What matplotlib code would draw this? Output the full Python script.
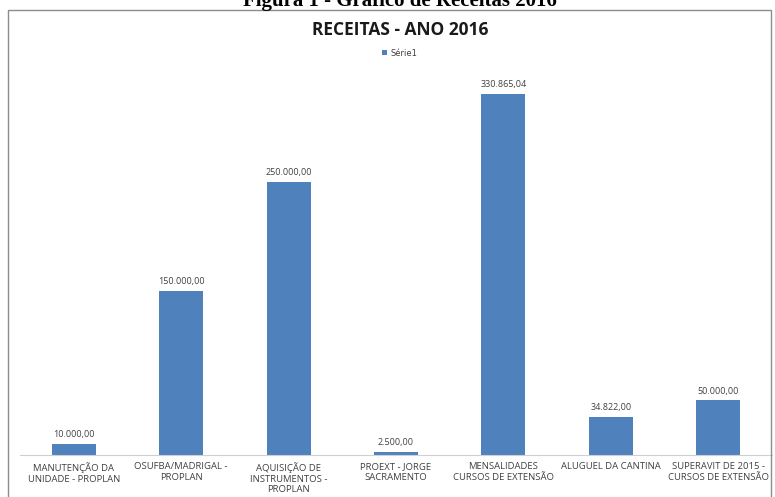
import matplotlib.pyplot as plt
from matplotlib.patches import Rectangle

categorias = ["MANUTENÇÃO DA\nUNIDADE - PROPLAN", "OSUFBA/MADRIGAL -\nPROPLAN",
              "AQUISIÇÃO DE\nINSTRUMENTOS -\nPROPLAN", "PROEXT - JORGE\nSACRAMENTO",
              "MENSALIDADES\nCURSOS DE EXTENSÃO", "ALUGUEL DA CANTINA",
              "SUPERAVIT DE 2015 -\nCURSOS DE EXTENSÃO"]
valores = [10000.00, 150000.00, 250000.00, 2500.00, 330865.04, 34822.00, 50000.00]
rotulos = ["10.000,00", "150.000,00", "250.000,00", "2.500,00", "330.865,04", "34.822,00", "50.000,00"]

W, H = 775, 497
fig = plt.figure(figsize=(W / 100, H / 100), dpi=100)

# caption cut at the top of the page
fig.text(400 / W, 1 - 6 / H, "Figura 1 - Gráfico de Receitas 2016", ha='center', va='baseline',
         fontsize=15, fontweight='bold', family='Liberation Serif')

# chart frame
fig.patches.append(Rectangle((8 / W, -0.05), 763 / W, 1.05 - 10 / H, transform=fig.transFigure,
                             fill=False, edgecolor='#8c8c8c', linewidth=1))

fig.text(400 / W, 1 - 30 / H, "RECEITAS - ANO 2016", ha='center', va='center',
         fontsize=12.5, fontweight='bold', family='Open Sans', color='#1a1a1a')

ax = fig.add_axes([20 / W, 42 / H, 752 / W, 382 / H])
bars = ax.bar(range(len(valores)), valores, width=0.41, color='#4F81BD', label='Série1')
ax.set_xlim(-0.5, len(valores) - 0.5)
ax.set_ylim(0, 350000)
for i, (v, r) in enumerate(zip(valores, rotulos)):
    ax.text(i, v + 4500, r, ha='center', va='bottom', fontsize=6.5, color='#404040', family='Open Sans')

ax.set_xticks(range(len(valores)))
ax.set_xticklabels(categorias, fontsize=6.8, color='#404040', family='Open Sans', linespacing=1.25)
ax.tick_params(axis='x', length=0, pad=5)
ax.set_yticks([])
for s in ['top', 'right', 'left']:
    ax.spines[s].set_visible(False)
ax.spines['bottom'].set_color('#d0d0d0')

leg = fig.legend(loc='center', bbox_to_anchor=(400 / W, 1 - 53 / H), frameon=False,
                 fontsize=6, handlelength=0.6, handleheight=0.6, handletextpad=0.4)
for t in leg.get_texts():
    t.set_color('#404040')

fig.savefig('out.png', dpi=100)
